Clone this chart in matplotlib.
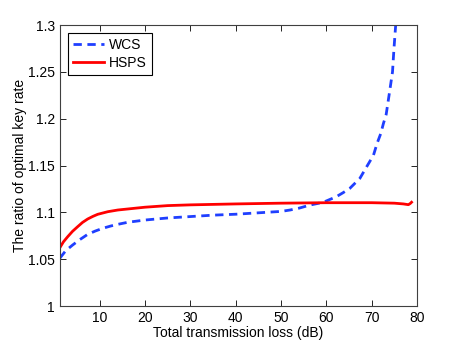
import matplotlib
matplotlib.use("Agg")
import matplotlib.pyplot as plt

# values
wcs_loss = [1.2, 2.5, 4.0, 5.5, 7.35, 9, 10.7, 12.5, 14.0, 16.2, 20, 25, 30,
            35, 40, 45, 50, 52, 54, 56.4, 59.3, 62.2, 63.7, 65.2, 67.4, 68.9,
            70.4, 71.2, 72.0, 72.6, 73.2, 73.9, 74.6, 74.9, 75.3, 75.6]
wcs_ratio = [1.051, 1.059, 1.065, 1.0705, 1.0765, 1.080, 1.083, 1.0855, 1.0872,
             1.0894, 1.0918, 1.094, 1.0955, 1.097, 1.098, 1.0995, 1.101, 1.1025,
             1.1045, 1.1078, 1.1107, 1.1167, 1.121, 1.1257, 1.1363, 1.1487,
             1.161, 1.1737, 1.184, 1.195, 1.2045, 1.227, 1.250, 1.2733, 1.300,
             1.320]

hsps_loss = [1.2, 2.0, 2.94, 4.0, 5.14, 6.2, 7.35, 8.5, 9.56, 11.8, 14.0, 16.2,
             20, 25, 30, 40, 50, 60, 70, 75, 77, 78.1, 78.5, 78.8]
hsps_ratio = [1.0622, 1.0685, 1.074, 1.0797, 1.0847, 1.0892, 1.0929, 1.0957,
              1.0979, 1.1007, 1.1025, 1.1036, 1.1055, 1.1072, 1.108, 1.109,
              1.1098, 1.1103, 1.1103, 1.1098, 1.109, 1.1082, 1.1094, 1.1108]

plt.rcParams["font.family"] = ["Liberation Sans", "DejaVu Sans"]

fig = plt.figure(figsize=(4.6, 3.46), dpi=100)
ax = fig.add_axes([0.13, 0.1156, 0.7765, 0.812])

ax.plot(wcs_loss, wcs_ratio, "--", color="#1f3fff", lw=2, dashes=(3, 2), label="WCS")
ax.plot(hsps_loss, hsps_ratio, "-", color="red", lw=2, label="HSPS")

ax.set_xlim(1.2, 80)
ax.set_ylim(1, 1.3)
ax.set_xticks([10, 20, 30, 40, 50, 60, 70, 80])
ax.set_yticks([1, 1.05, 1.1, 1.15, 1.2, 1.25, 1.3])
ax.set_yticklabels(["1", "1.05", "1.1", "1.15", "1.2", "1.25", "1.3"])
ax.tick_params(direction="in", top=True, right=True, labelsize=10, length=4, width=0.6)
for s in ax.spines.values():
    s.set_linewidth(0.8)
    s.set_color("#404040")

ax.set_xlabel("Total transmission loss (dB)", fontsize=10, labelpad=1)
ax.set_ylabel("The ratio of optimal key rate", fontsize=10, labelpad=1)

leg = ax.legend(loc="upper left", fontsize=10, handlelength=2.2, borderaxespad=0.6,
                fancybox=False, edgecolor="black", framealpha=1, labelspacing=0.25,
                handletextpad=0.4, borderpad=0.35)
leg.get_frame().set_linewidth(0.8)

fig.savefig("out.png", dpi=100)
